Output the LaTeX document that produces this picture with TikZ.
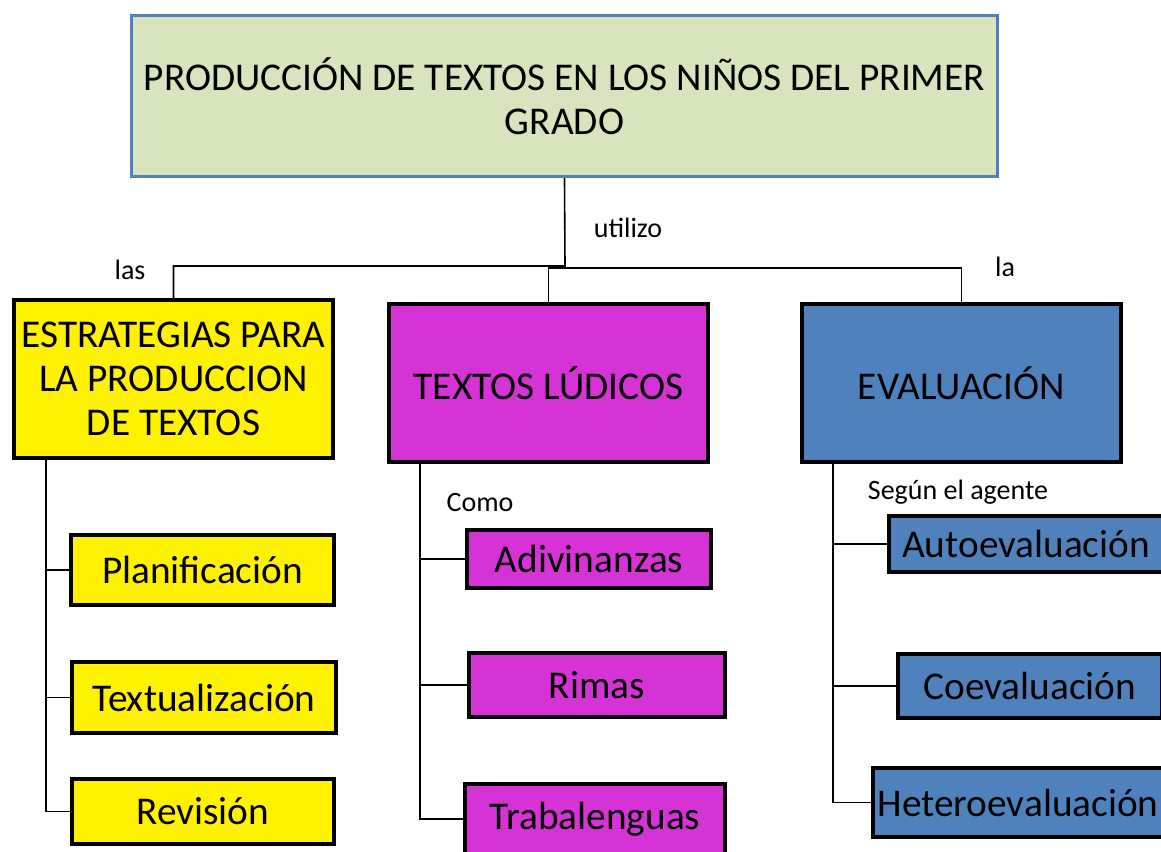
\documentclass[tikz,border=0pt]{standalone}
\usepackage{fontspec}
\setmainfont{Carlito}
\usepackage{tikz}
\usetikzlibrary{positioning, calc}
\definecolor{TitleGreen}{HTML}{D7E4BD}
\definecolor{OfficeBlue}{HTML}{4F81BD}
\definecolor{LudicPurple}{HTML}{D633D6}
\tikzset{
    mainbox/.style={rectangle, draw=OfficeBlue, fill=TitleGreen, line width=2.25pt,
        inner sep=0pt, align=center, font=\fontsize{29.5}{33}\selectfont},
    stratbox/.style={rectangle, draw=black, fill=yellow, line width=3pt,
        inner sep=0pt, align=center, font=\fontsize{29.5}{33}\selectfont},
    ludicbox/.style={rectangle, draw=black, fill=LudicPurple, line width=3pt,
        inner sep=0pt, align=center, font=\fontsize{29.5}{33}\selectfont},
    evalbox/.style={rectangle, draw=black, fill=OfficeBlue, line width=3pt,
        inner sep=0pt, align=center, font=\fontsize{29.5}{33}\selectfont},
    linklabel/.style={inner sep=0pt, font=\fontsize{21}{24}\selectfont},
    linkline/.style={draw=black, line width=1.2pt},
}

\begin{document}
\begin{tikzpicture}[x=0.75pt, y=-0.75pt]
    \useasboundingbox[fill=white] (0,0) rectangle (1161,851);

    % main topic
    \node[mainbox, minimum width=649.5pt, minimum height=120.75pt] (title) at (564.5,96)
        {PRODUCCIÓN DE TEXTOS EN LOS NIÑOS DEL PRIMER\\GRADO};

    % three branches
    \node[stratbox, minimum width=239.25pt, minimum height=118.5pt] (strat) at (173.5,379)
        {ESTRATEGIAS PARA\\LA PRODUCCION\\DE TEXTOS};
    \node[ludicbox, minimum width=239.25pt, minimum height=118.5pt] (ludic) at (548.5,383)
        {TEXTOS LÚDICOS};
    \node[evalbox, minimum width=239.25pt, minimum height=118.5pt] (eval) at (961.5,383)
        {EVALUACIÓN};

    % strategies
    \node[stratbox, minimum width=197.25pt, minimum height=52.5pt] (planif) at (202.5,570) {Planificación};
    \node[stratbox, minimum width=198pt, minimum height=53.25pt] (textual) at (204,697.5) {Textualización};
    \node[stratbox, minimum width=196.5pt, minimum height=48.75pt] (revision) at (203,811.5) {Revisión};

    % ludic texts
    \node[ludicbox, minimum width=183pt, minimum height=43.5pt] (adivin) at (589,559) {Adivinanzas};
    \node[ludicbox, minimum width=192pt, minimum height=48pt] (rimas) at (597,685) {Rimas};
    \node[ludicbox, minimum width=195pt, minimum height=52.5pt] (trabal) at (595,819) {Trabalenguas};

    % evaluation by agent
    \node[evalbox, minimum width=205.5pt, minimum height=42pt] (autoev) at (1026,544) {Autoevaluación};
    \node[evalbox, minimum width=198pt, minimum height=48pt] (coev) at (1030,686) {Coevaluación};
    \node[evalbox, minimum width=217.5pt, minimum height=51.75pt] (heteroev) at (1018,802.5) {Heteroevaluación};

    % link words
    \node[linklabel] (lblUtilizo) at (628,228) {utilizo};
    \node[linklabel] (lblLas) at (130,270) {las};
    \node[linklabel] (lblLa) at (1005,267) {la};
    \node[linklabel] (lblComo) at (480,503) {Como};
    \node[linklabel] (lblAgente) at (958,492) {Según el agente};

    % connectors
    \coordinate (hub) at (565,266);
    \coordinate (hubR) at (548.5,268);
    \coordinate (axisS) at (46,0);
    \coordinate (axisL) at (420,0);
    \coordinate (axisE) at (833,0);

    \draw[linkline] (title.south) -- (hub) -| (strat.north);
    \draw[linkline] (ludic.north) -- (hubR) -| (eval.north);

    \draw[linkline] (strat.south -| axisS) |- (revision.west);
    \foreach \n in {planif, textual}
        \draw[linkline] (axisS |- \n.west) -- (\n.west);

    \draw[linkline] (ludic.south -| axisL) |- (trabal.west);
    \foreach \n in {adivin, rimas}
        \draw[linkline] (axisL |- \n.west) -- (\n.west);

    \draw[linkline] (eval.south -| axisE) |- (heteroev.west);
    \foreach \n in {autoev, coev}
        \draw[linkline] (axisE |- \n.west) -- (\n.west);
\end{tikzpicture}
\end{document}
